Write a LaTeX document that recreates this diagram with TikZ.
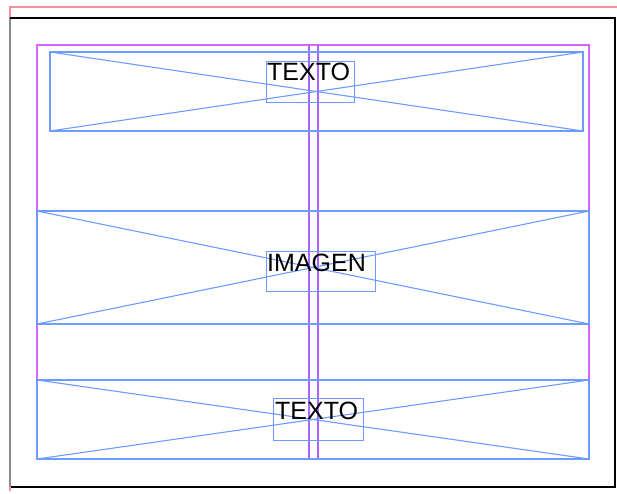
\documentclass[tikz,border=0pt]{standalone}
\usepackage{fontspec}
\setmainfont{Liberation Sans}
\definecolor{frameblue}{RGB}{110,155,255}
\definecolor{marginmag}{RGB}{215,100,255}
\definecolor{colguide}{RGB}{170,100,255}
\definecolor{bleedpink}{RGB}{255,140,155}
\tikzset{
  frm/.style={draw=frameblue, line width=1.3pt},
  diag/.style={draw=frameblue, line width=1.1pt},
  txtbox/.style={draw=frameblue, line width=1pt},
  lbl/.style={font=\fontsize{25}{25}\selectfont, anchor=base west, inner sep=0pt, text=black},
}
\begin{document}
\begin{tikzpicture}[x=1pt,y=-1pt]
\useasboundingbox (0,0) rectangle (617,493);
\fill[white] (0,0) rectangle (617,493);
% bleed line
\draw[bleedpink, line width=1.2pt] (10,491) -- (10,7) -- (617,7);
% page
\draw[black!45, line width=1.5pt] (10,18) -- (10,487);
\draw[black, line width=1.3pt] (10,18) -- (615,18) -- (615,487);
\draw[black, line width=2.8pt] (11,487) -- (616,487);
% margins
\draw[marginmag, line width=1.3pt] (37,45) rectangle (589,459);
% column guides
\draw[colguide, line width=1.3pt] (309,45) -- (309,459);
\draw[colguide, line width=1.3pt] (318,45) -- (318,459);
% top text frame
\draw[frm] (50,52) rectangle (583,131);
\draw[diag] (50,52) -- (583,131);
\draw[diag] (50,131) -- (583,52);
\draw[txtbox] (266,61) rectangle (354,102);
\node[lbl] (t1) at (267,80) {TEXTO};
% image frame
\draw[frm] (37,211) rectangle (589,324);
\draw[diag] (37,211) -- (589,324);
\draw[diag] (37,324) -- (589,211);
\draw[txtbox] (266,251) rectangle (375,291);
\node[lbl] (t2) at (267,271) {IMAGEN};
% bottom text frame
\draw[frm] (37,380) rectangle (589,459);
\draw[diag] (37,380) -- (589,459);
\draw[diag] (37,459) -- (589,380);
\draw[txtbox] (273,398) rectangle (363,440);
\node[lbl] (t3) at (275,419) {TEXTO};
\end{tikzpicture}
\end{document}
